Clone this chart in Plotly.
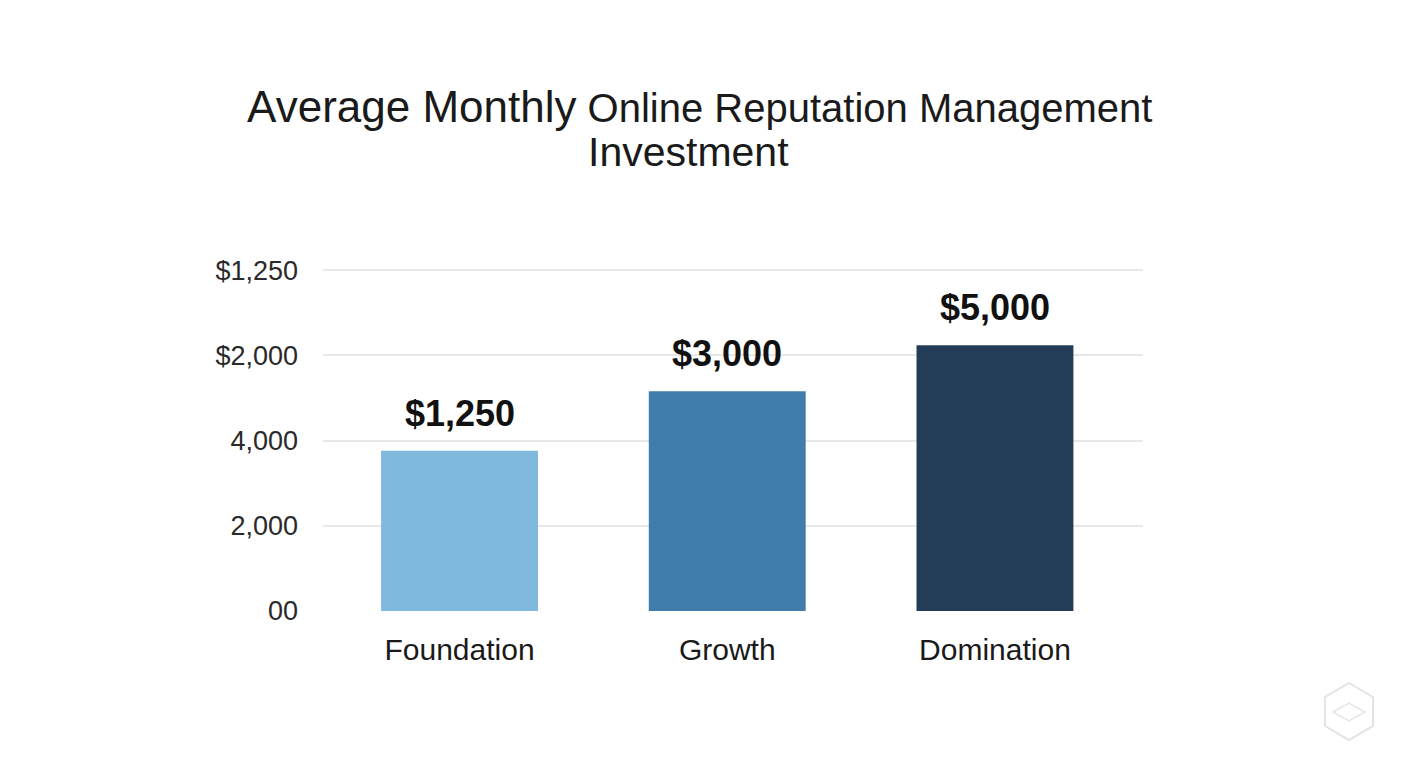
import plotly.graph_objects as go

# Data
categories = ["Foundation", "Growth", "Domination"]
bar_heights = [1.88, 2.58, 3.12]          # bar heights in axis units (gridline steps)
bar_labels = ["$1,250", "$3,000", "$5,000"]
bar_colors = ["#80B9DE", "#407CAC", "#233C57"]
tick_vals = [0, 1, 2, 3, 4]
tick_text = ["00", "2,000", "4,000", "$2,000", "$1,250"]
title_line1 = "<span style='font-size:44px'>Average Monthly</span> Online Reputation Management"
title_line2 = "Investment"

W, H = 1408, 768
L, R, T, B = 323, 265, 266, 157
y_range = [0, 4.05]

fig = go.Figure()
fig.add_trace(go.Bar(
    x=categories, y=bar_heights,
    marker=dict(color=bar_colors, line=dict(width=0)),
    width=0.586, hoverinfo="skip",
))

for c, h, t in zip(categories, bar_heights, bar_labels):
    fig.add_annotation(x=c, y=h, text=t, showarrow=False, yanchor="bottom",
                       yshift=15, font=dict(family="Liberation Sans, Arial", size=36,
                                            color="#111111", weight="bold"))

def px(x, y):
    return (x - L) / (W - L - R), (H - B - y) / (H - T - B)

# second title line
ax, ay = px(688, 152)
fig.add_annotation(x=ax, y=ay, xref="paper", yref="paper", text=title_line2,
                   showarrow=False, xanchor="center", yanchor="middle",
                   font=dict(family="Liberation Sans, Arial", size=41, color="#1A1A1A"))

# faint watermark logo (hexagon) in the bottom-right corner
hexpts = [(1349, 683), (1373, 697), (1373, 726), (1349, 740), (1325, 726), (1325, 697)]
path = "M " + " L ".join(f"{px(a, b)[0]:.4f},{px(a, b)[1]:.4f}" for a, b in hexpts) + " Z"
fig.add_shape(type="path", path=path, xref="paper", yref="paper",
              line=dict(color="#E3E3E3", width=2))
inner = [(1333, 712), (1349, 703), (1365, 712), (1349, 721)]
path2 = "M " + " L ".join(f"{px(a, b)[0]:.4f},{px(a, b)[1]:.4f}" for a, b in inner) + " Z"
fig.add_shape(type="path", path=path2, xref="paper", yref="paper",
              line=dict(color="#E6E6E6", width=1.5))

fig.update_layout(
    width=W, height=H,
    margin=dict(l=L, r=R, t=T, b=B, pad=0),
    paper_bgcolor="white", plot_bgcolor="white",
    showlegend=False,
    title=dict(
        text=title_line1,
        x=0.497, xanchor="center", y=1 - 108 / H, yanchor="middle", yref="container",
        font=dict(family="Liberation Sans, Arial", size=40, color="#1A1A1A"),
    ),
    bargap=0.4,
)
fig.update_xaxes(
    range=[-0.51, 2.553], showgrid=False, zeroline=False, showline=False,
    ticks="", ticklabelstandoff=18,
    tickfont=dict(family="Liberation Sans, Arial", size=30, color="#1A1A1A"),
)
fig.update_yaxes(
    range=y_range, tickvals=tick_vals, ticktext=tick_text,
    showgrid=True, gridcolor="#E8E8E8", gridwidth=1.5,
    zeroline=False, showline=False, ticks="", ticklabelstandoff=24,
    tickfont=dict(family="Liberation Sans, Arial", size=27, color="#2A2A2A"),
)

fig.write_html("out.html", config={"displayModeBar": False})
